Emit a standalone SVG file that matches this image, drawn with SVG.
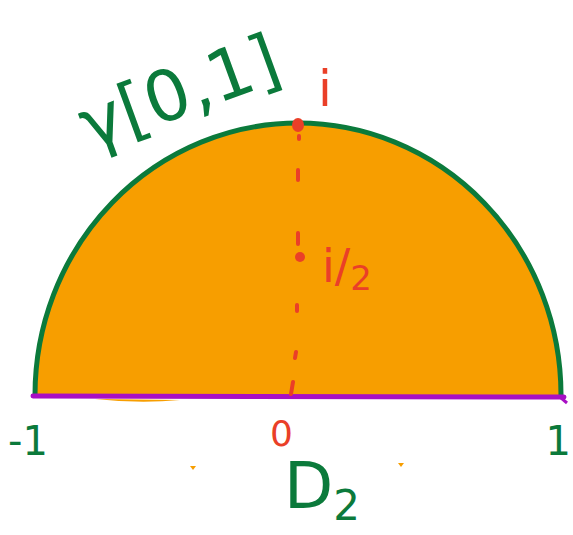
<svg xmlns="http://www.w3.org/2000/svg" width="573" height="535" viewBox="0 0 573 535">
<style>
.g{fill:#0b7a3b;font-family:"DejaVu Sans","Liberation Sans",sans-serif}
.r{fill:#ea3f28;font-family:"DejaVu Sans","Liberation Sans",sans-serif}
.dash{stroke:#ea3f28;stroke-width:4;stroke-linecap:round;fill:none}
</style>
<rect width="573" height="535" fill="#ffffff"/>
<g id="halfdisk">
<path d="M35,395 A263,272 0 0 1 561,395 Z" fill="#f79e00"/>
<path d="M35,395 A263,272 0 0 1 561,395" fill="none" stroke="#0b7a3b" stroke-width="5"/>
<path d="M95,399 Q140,404 180,400 L95,399Z" fill="#f79e00"/>
<line x1="33" y1="396" x2="564" y2="397" stroke="#a80fc4" stroke-width="5" stroke-linecap="round"/>
<path d="M560,397 L567,403" stroke="#a80fc4" stroke-width="3"/>
</g>
<g id="axis">
<path class="dash" d="M299,136 L299,139 M298,170 L298,180 M298,233 L298,244 M297,305 L297,311 M296,352 L295,358 M293,382 L291,394"/>
<ellipse cx="298" cy="125" rx="6" ry="7" fill="#ea3f28"/>
<circle cx="300" cy="257" r="5" fill="#ea3f28"/>
</g>
<g id="labels">
<text class="g" x="90" y="150" font-size="70" transform="rotate(-20 90 150)">γ[0,1]</text>
<text class="r" x="318" y="106" font-size="50">i</text>
<text class="r" x="322" y="282" font-size="46">i/<tspan font-size="34" dy="8">2</tspan></text>
<text class="g" x="8" y="455" font-size="40">-1</text>
<text class="r" x="270" y="446" font-size="36">0</text>
<text class="g" x="571" y="455" font-size="40" text-anchor="end">1</text>
<text class="g" x="284" y="508" font-size="64">D<tspan font-size="42" dy="12">2</tspan></text>
<path d="M190,466 L196,466 L193,470Z M398,463 L404,463 L401,467Z" fill="#f79e00"/>
</g>
</svg>
